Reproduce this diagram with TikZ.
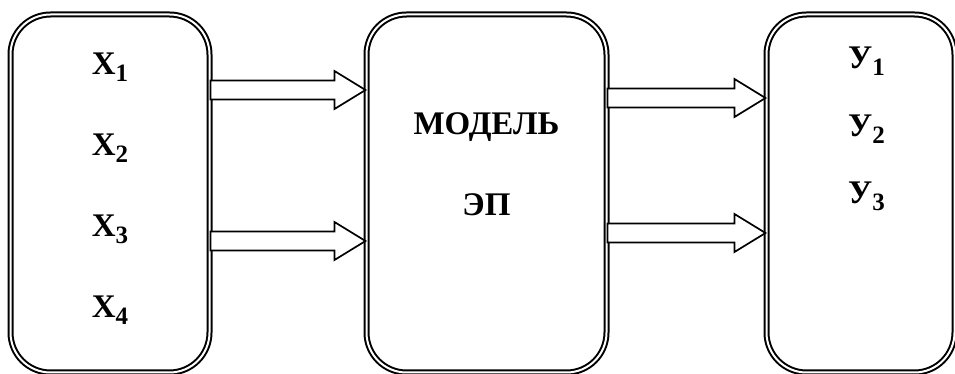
\documentclass[tikz,border=0pt]{standalone}
\usepackage{fontspec}
\setmainfont{Liberation Serif}
\usetikzlibrary{positioning, calc}

\newcommand{\lowidx}[1]{\raisebox{-3.5pt}{\fontsize{12.5}{12}\selectfont #1}}

\begin{document}
\begin{tikzpicture}[
  x=0.5pt, y=-0.5pt,
  font=\bfseries\fontsize{16.5}{19}\selectfont,
  every node/.style={align=center},
  block/.style={draw, line width=1pt, double, double distance=1pt,
                rounded corners=20pt, minimum height=179pt, inner sep=0pt},
  blockarrow/.style={draw, line width=0.85pt, fill=white,
    to path={let \p1=(\tikztostart), \p2=(\tikztotarget) in
      (\x1,\y1+4.75pt) -- (\x2-15.5pt,\y1+4.75pt) -- (\x2-15.5pt,\y1+9.5pt)
      -- (\x2,\y1) -- (\x2-15.5pt,\y1-9.5pt) -- (\x2-15.5pt,\y1-4.75pt)
      -- (\x1,\y1-4.75pt) -- cycle}},
]
\useasboundingbox (0,0) rectangle (955,374);

% the three boxes
\node [block, minimum width=99.5pt] (inbox) at (110,193.5) {};
\node [block, minimum width=120pt] (modelbox) [right=77.5pt of inbox] {};
\node [block, minimum width=94pt] (outbox) [right=79pt of modelbox] {};

% inputs
\foreach \i in {1,...,4}
  \node (x\i) at ([yshift=-26.75pt-(\i-1)*40.5pt]inbox.north) {X\lowidx{\i}};

% model
\node (model) at ([yshift=-57pt]modelbox.north) {МОДЕЛЬ};
\node (ep) [below=19pt of model] {ЭП};

% outputs
\foreach \i in {1,2,3}
  \node (y\i) at ([xshift=3pt, yshift=-24pt-(\i-1)*33.75pt]outbox.north) {У\lowidx{\i}};

% block arrows
\draw [blockarrow] (inbox.east |- 0,90) to (modelbox.west |- 0,90);
\draw [blockarrow] (inbox.east |- 0,241) to (modelbox.west |- 0,241);
\draw [blockarrow] (modelbox.east |- 0,98) to (outbox.west |- 0,98);
\draw [blockarrow] (modelbox.east |- 0,233) to (outbox.west |- 0,233);

\end{tikzpicture}
\end{document}
